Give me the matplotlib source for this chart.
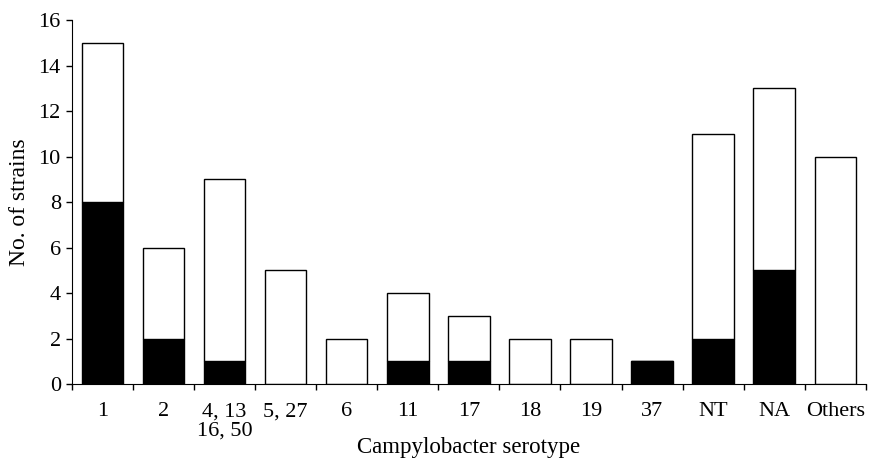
import matplotlib
matplotlib.use("Agg")
import matplotlib.pyplot as plt
import numpy as np

categories = ["1", "2", "4, 13\n16, 50", "5, 27", "6", "11", "17", "18", "19", "37", "NT", "NA", "Others"]
totals = [15, 6, 9, 5, 2, 4, 3, 2, 2, 1, 11, 13, 10]
black = [8, 2, 1, 0, 0, 1, 1, 0, 0, 1, 2, 5, 0]
white = [t - b for t, b in zip(totals, black)]

plt.rcParams['font.family'] = ['Liberation Serif', 'DejaVu Serif']
fig = plt.figure(figsize=(8.88, 4.59), dpi=100)
ax = fig.add_axes([0.081, 0.163, 0.894, 0.793])

x = np.arange(len(categories))
w = 0.68
ax.bar(x, black, w, color='black', edgecolor='black', linewidth=1.0)
ax.bar(x, white, w, bottom=black, color='white', edgecolor='black', linewidth=1.0)

fs = 16
ax.set_xlim(-0.5, len(categories) - 0.5)
ax.set_ylim(0, 16)
ax.set_yticks(np.arange(0, 17, 2))
ax.set_xticks(x)
ax.set_xticklabels(categories, fontsize=fs, linespacing=1.0, va='top')
ax.set_xticks(np.arange(-0.5, len(categories), 1), minor=True)
ax.tick_params(axis='x', which='major', length=0, pad=13)
ax.tick_params(axis='x', which='minor', length=4, width=1, direction='out')
ax.tick_params(axis='y', length=4, width=1, direction='out', labelsize=fs, pad=4)
ax.spines['top'].set_visible(False)
ax.spines['right'].set_visible(False)
ax.set_ylabel("No. of strains", fontsize=17, labelpad=6)
ax.set_xlabel("Campylobacter serotype", fontsize=16.5, labelpad=-2)

fig.savefig("out.png", dpi=100)
